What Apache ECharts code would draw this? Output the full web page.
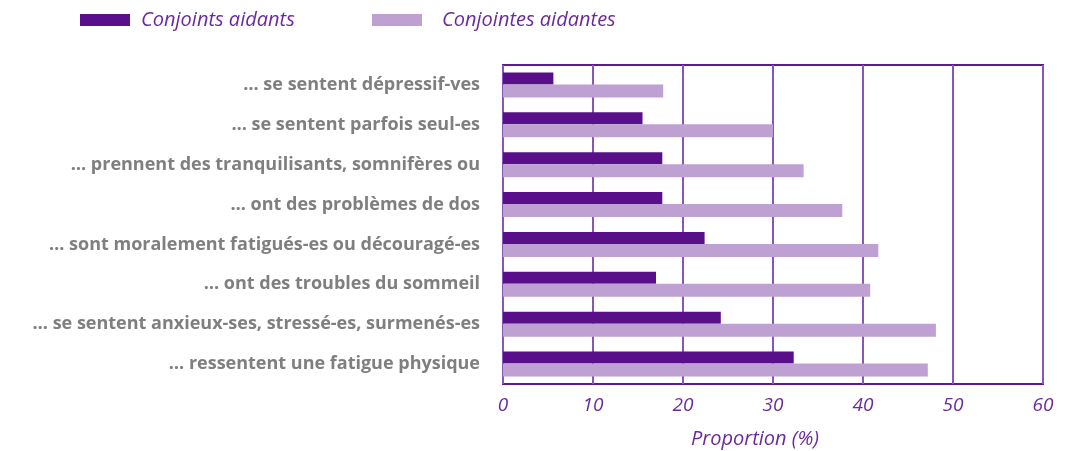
<!DOCTYPE html>
<html>
<head>
<meta charset="utf-8">
<script src="https://cdn.jsdelivr.net/npm/echarts@6/dist/echarts.min.js"></script>
<style>
  html, body { margin: 0; padding: 0; background: #fff; }
  #chart { width: 1076px; height: 451px; }
</style>
</head>
<body>
<div id="chart"></div>
<script>
// données (de haut en bas)
var categories = [
  '… se sentent dépressif-ves',
  '… se sentent parfois seul-es',
  '… prennent des tranquilisants, somnifères ou',
  '… ont des problèmes de dos',
  '… sont moralement fatigués-es ou découragé-es',
  '… ont des troubles du sommeil',
  '… se sentent anxieux-ses, stressé-es, surmenés-es',
  '… ressentent une fatigue physique'
];
var conjoints = [5.6, 15.5, 17.7, 17.7, 22.4, 17.0, 24.2, 32.3];
var conjointes = [17.8, 30, 33.4, 37.7, 41.7, 40.8, 48.1, 47.2];
var seriesNames = ['Conjoints aidants', 'Conjointes aidantes'];

var dark = '#5a0f8a';
var light = '#bea0d2';
var textPurple = '#6a2a9c';

var chart = echarts.init(document.getElementById('chart'));

var legendText = { fontFamily: 'Open Sans', fontStyle: 'italic', fontSize: 20, color: textPurple };

var option = {
  backgroundColor: '#fff',
  animation: false,
  legend: [{
    data: [seriesNames[0]],
    left: 75,
    top: 5,
    itemWidth: 50,
    itemHeight: 12,
    icon: 'rect',
    textStyle: Object.assign({ padding: [0, 0, 0, 6] }, legendText)
  }, {
    data: [seriesNames[1]],
    left: 367,
    top: 5,
    itemWidth: 50,
    itemHeight: 12,
    icon: 'rect',
    textStyle: Object.assign({ padding: [0, 0, 0, 15] }, legendText)
  }],
  grid: {
    left: 503,
    right: 33,
    top: 65,
    bottom: 67,
    outerBoundsMode: 'none',
    show: true,
    borderColor: '#5c1a8c',
    borderWidth: 2
  },
  xAxis: {
    type: 'value',
    min: 0,
    max: 60,
    interval: 10,
    name: 'Proportion (%)',
    nameLocation: 'middle',
    nameGap: 45,
    nameTextStyle: { fontFamily: 'Open Sans', fontStyle: 'italic', fontSize: 20, color: textPurple, padding: [0, 36, 0, 0] },
    axisLine: { show: false },
    axisTick: { show: false },
    axisLabel: { margin: 12, fontFamily: 'Open Sans', fontStyle: 'italic', fontSize: 19, color: textPurple },
    splitLine: { show: true, lineStyle: { color: '#8a55b8', width: 2 } }
  },
  yAxis: {
    type: 'category',
    data: categories,
    inverse: true,
    axisLine: { show: false },
    axisTick: { show: false },
    axisLabel: { margin: 23, fontFamily: 'Open Sans', fontWeight: 'bold', fontSize: 18, color: '#7f7f7f' }
  },
  series: [{
    name: seriesNames[0],
    type: 'bar',
    data: conjoints,
    barWidth: 12,
    barGap: '0%',
    itemStyle: { color: dark }
  }, {
    name: seriesNames[1],
    type: 'bar',
    data: conjointes,
    barWidth: 13,
    itemStyle: { color: light }
  }]
};

chart.setOption(option);
</script>
</body>
</html>
